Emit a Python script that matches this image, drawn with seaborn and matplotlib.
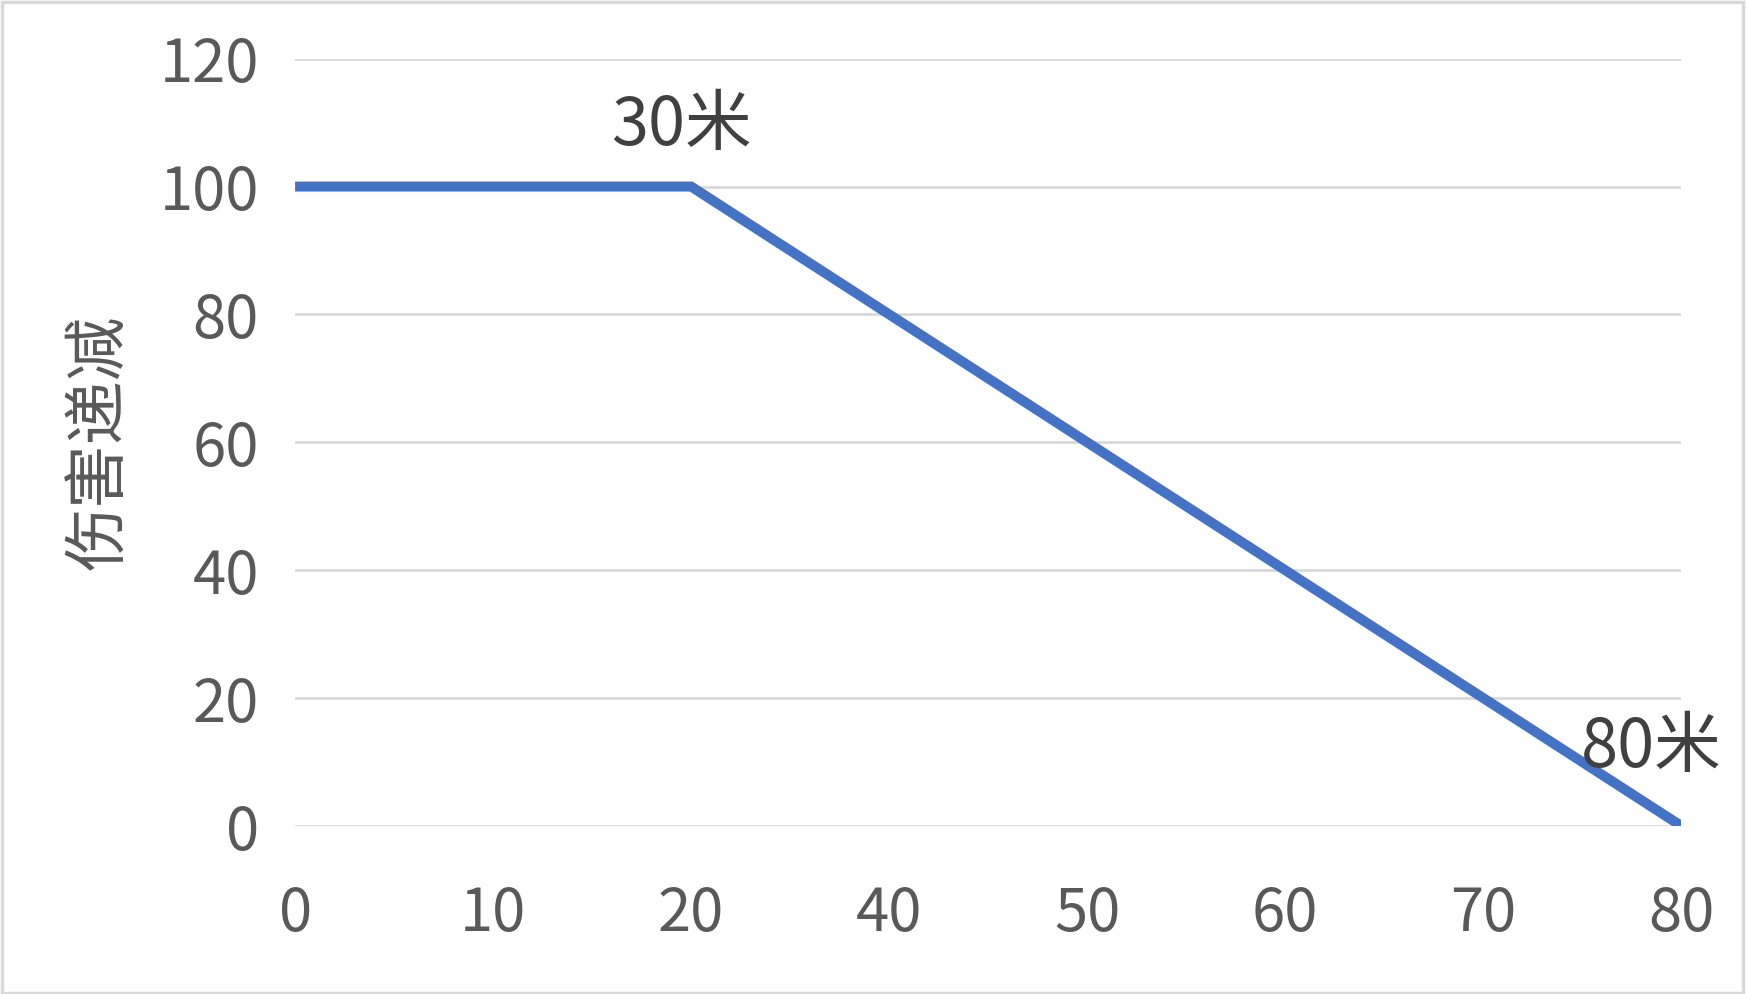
import matplotlib
matplotlib.use("Agg")
import matplotlib.pyplot as plt
import numpy as np
import seaborn as sns
from matplotlib.patches import Rectangle

# category axis (note: 30 is absent in the source)
distance_labels = ["0", "10", "20", "40", "50", "60", "70", "80"]
damage_values = [100, 100, 100, 80, 60, 40, 20, 0]
y_ticks = [0, 20, 40, 60, 80, 100, 120]

note_texts = ["30米", "80米"]
note_x = [1.95, 6.85]
note_y = [109.5, 12.2]

sns.set_theme(style="white")
plt.rcParams["font.family"] = ["Noto Sans CJK SC", "DejaVu Sans"]

fig = plt.figure(figsize=(17.46, 9.94), dpi=100)
ax = fig.add_axes([0.169, 0.169, 0.794, 0.772])

positions = np.arange(len(distance_labels))
sns.lineplot(x=positions, y=damage_values, ax=ax, color="#4472C4", linewidth=7.2,
             solid_capstyle="butt", solid_joinstyle="miter")

ax.set_xlim(0, len(distance_labels) - 1)
ax.set_ylim(0, 120)
ax.set_xticks(positions)
ax.set_xticklabels(distance_labels)
ax.set_yticks(y_ticks)
ax.grid(axis="y", color="#D9D9D9", linewidth=2)
ax.set_axisbelow(True)
for spine in ax.spines.values():
    spine.set_visible(False)

ax.tick_params(axis="x", length=0, pad=42, labelsize=43, labelcolor="#595959")
ax.tick_params(axis="y", length=0, pad=26, labelsize=43, labelcolor="#595959")
ax.set_ylabel("伤害递减", fontsize=46, color="#595959", labelpad=19)
ax.set_xlabel("")

for text, x, y in zip(note_texts, note_x, note_y):
    ax.text(x, y, text, fontsize=48, color="#404040", ha="center", va="center")

fig.patches.append(Rectangle((0.001, 0.001), 0.997, 0.997, transform=fig.transFigure,
                             fill=False, edgecolor="#D9D9D9", linewidth=2.5))

fig.savefig("out.png", dpi=100)
